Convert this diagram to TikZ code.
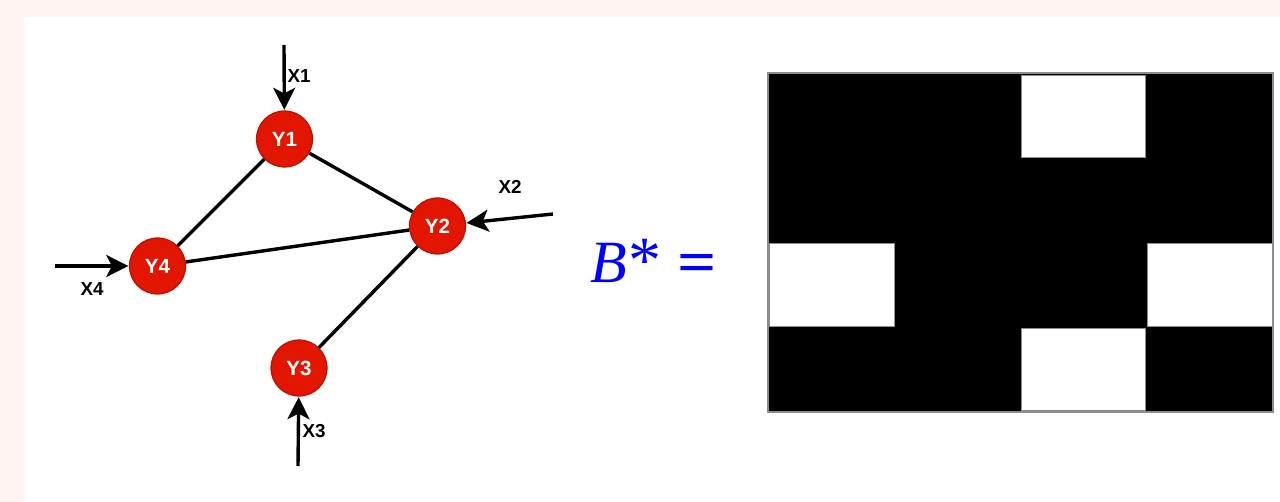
\documentclass[tikz,border=0pt]{standalone}
\usepackage{fontspec}
\setmainfont{Liberation Sans}
\newfontfamily\serifB{Liberation Serif}
\usetikzlibrary{arrows.meta}
\definecolor{pinkbg}{HTML}{FFF4F1}
\definecolor{nodered}{HTML}{E21600}
\definecolor{nodeedge}{HTML}{B81200}
\definecolor{cellgrey}{HTML}{8C8C8C}
\tikzset{
  yvar/.style={circle, fill=nodered, draw=nodeedge, line width=0.6pt, minimum size=28pt, inner sep=0pt, text=white, font=\fontsize{10.3}{11}\selectfont\bfseries},
  xlab/.style={inner sep=0pt, font=\fontsize{9.4}{10}\selectfont\bfseries},
  edge/.style={line width=1.7pt, black},
  inarrow/.style={line width=1.7pt, black, -{Stealth[length=11pt,width=11pt,inset=2.8pt]}, shorten >=0.3pt},
  whitecell/.style={fill=white, draw=cellgrey, line width=0.5pt},
}
\begin{document}
\begin{tikzpicture}[x=0.5pt,y=-0.5pt]
\useasboundingbox (0,0) rectangle (1280,502);
\fill[pinkbg] (0,0) rectangle (1280,502);
\fill[white] (24,17) rectangle (1280,502);
% graph
\node[yvar] (Y1) at (284.5,139) {Y1};
\node[yvar] (Y2) at (437.5,226) {Y2};
\node[yvar] (Y3) at (299,368) {Y3};
\node[yvar] (Y4) at (157.5,266) {Y4};
\draw[edge] (Y1) -- (Y4);
\draw[edge] (Y1) -- (Y2);
\draw[edge] (Y2) -- (Y4);
\draw[edge] (Y2) -- (Y3);
\coordinate (x1s) at (284,45);
\coordinate (x2s) at (553,214);
\coordinate (x3s) at (298,466);
\coordinate (x4s) at (55,266);
\draw[inarrow] (x1s) -- (Y1);
\draw[inarrow] (x2s) -- (Y2);
\draw[inarrow] (x3s) -- (Y3);
\draw[inarrow] (x4s) -- (Y4);
\node[xlab] (X1) at (299,76) {X1};
\node[xlab] (X2) at (510,187) {X2};
\node[xlab] (X3) at (314,431) {X3};
\node[xlab] (X4) at (92,289) {X4};
% B* =
\node[text=blue, inner sep=0pt, anchor=base west, font=\serifB\fontsize{30}{32}\selectfont] (Bstar) at (590,283) {\itshape B\/\upshape\hspace{0.5pt}\raisebox{0pt}{\scalebox{1.1}{*}}\hspace{8pt}\bfseries\scalebox{1.15}[1]{=}};
% matrix
\draw[fill=black, draw=cellgrey, line width=0.6pt] (768,73) rectangle (1273,412);
\draw[whitecell] (1021.5,75.5) rectangle (1145.5,157.5);
\draw[whitecell] (769.5,244) rectangle (894,326.5);
\draw[whitecell] (1147.5,244) rectangle (1272,326.5);
\draw[whitecell] (1021.5,329) rectangle (1145.5,410.5);
\end{tikzpicture}
\end{document}
